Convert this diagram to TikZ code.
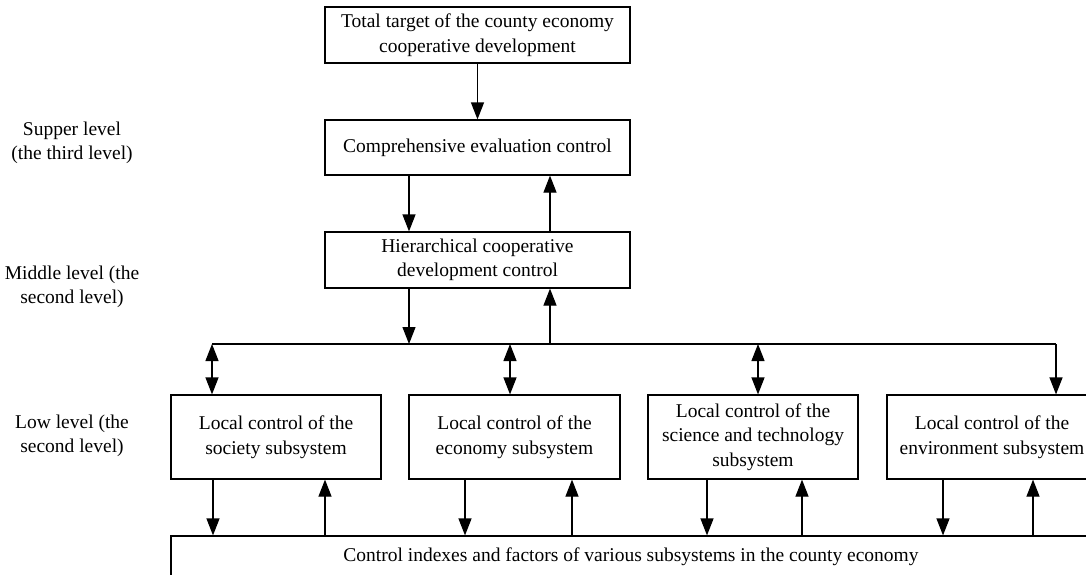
\documentclass[tikz,border=0pt]{standalone}
\usepackage{fontspec}
\setmainfont{Liberation Serif}
\usetikzlibrary{arrows.meta}
\begin{document}
\begin{tikzpicture}[x=1pt,y=-1pt,
  box/.style={draw,line width=1.2pt,align=center,inner sep=0pt,anchor=center},
  lbl/.style={align=center,inner sep=0pt},
  arr/.style={line width=1.2pt,-{Triangle[length=17pt,width=13pt]}},
  darr/.style={line width=1.2pt,{Triangle[length=17pt,width=13pt]}-{Triangle[length=17pt,width=13pt]}},
  line/.style={line width=1.2pt}]
\useasboundingbox (0,0) rectangle (1086,574);
\clip (0,0) rectangle (1086,574);
\fontsize{19.5}{24.5}\selectfont
% boxes
\node[box,minimum width=305pt,minimum height=56pt] (top) at (477.5,35) {Total target of the county economy\\cooperative development};
\node[box,minimum width=305pt,minimum height=55pt] (comp) at (477.5,147.5) {Comprehensive evaluation control};
\node[box,minimum width=305pt,minimum height=56pt] (hier) at (477.5,260) {Hierarchical cooperative\\development control};
\node[box,minimum width=210pt,minimum height=84pt] (soc) at (276,437) {Local control of the\\society subsystem};
\node[box,minimum width=211pt,minimum height=84pt] (eco) at (514.5,437) {Local control of the\\economy subsystem};
\node[box,minimum width=210pt,minimum height=84pt] (sci) at (753,437) {Local control of the\\science and technology\\subsystem};
\node[box,minimum width=210pt,minimum height=84pt] (env) at (992,437) {Local control of the\\environment subsystem};
\node[box,minimum width=920pt,minimum height=42pt] (bot) at (631,557) {Control indexes and factors of various subsystems in the county economy};
% level labels
\node[lbl] (l1) at (72,143) {Supper level\\(the third level)};
\node[lbl] (l2) at (72,287) {Middle level (the\\second level)};
\node[lbl] (l3) at (72,436) {Low level (the\\second level)};
% reference x positions
\coordinate (xa) at (409,0);
\coordinate (xb) at (550,0);
\coordinate (busy) at (0,344);
\coordinate (busL) at (212,344);
\coordinate (busR) at (1056,344);
\coordinate (d1) at (212,0);
\coordinate (d2) at (510,0);
\coordinate (d3) at (758,0);
\coordinate (d4) at (1056,0);
\coordinate (s1) at (213,0);
\coordinate (s2) at (325,0);
\coordinate (e1) at (465,0);
\coordinate (e2) at (572,0);
\coordinate (c1) at (707,0);
\coordinate (c2) at (802,0);
\coordinate (v1) at (943,0);
\coordinate (v2) at (1033,0);
% upper connectors
\draw[arr] (top.south) -- (comp.north);
\draw[arr] (comp.south -| xa) -- (hier.north -| xa);
\draw[arr] (hier.north -| xb) -- (comp.south -| xb);
% bus
\draw[line] (busL) -- (busR);
\draw[arr] (hier.south -| xa) -- (busy -| xa);
\draw[arr] (busy -| xb) -- (hier.south -| xb);
\draw[darr] (busy -| d1) -- (soc.north -| d1);
\draw[darr] (busy -| d2) -- (eco.north -| d2);
\draw[darr] (busy -| d3) -- (sci.north -| d3);
\draw[arr] (busR) -- (env.north -| d4);
% lower connectors
\draw[arr] (soc.south -| s1) -- (bot.north -| s1);
\draw[arr] (bot.north -| s2) -- (soc.south -| s2);
\draw[arr] (eco.south -| e1) -- (bot.north -| e1);
\draw[arr] (bot.north -| e2) -- (eco.south -| e2);
\draw[arr] (sci.south -| c1) -- (bot.north -| c1);
\draw[arr] (bot.north -| c2) -- (sci.south -| c2);
\draw[arr] (env.south -| v1) -- (bot.north -| v1);
\draw[arr] (bot.north -| v2) -- (env.south -| v2);
\end{tikzpicture}
\end{document}
